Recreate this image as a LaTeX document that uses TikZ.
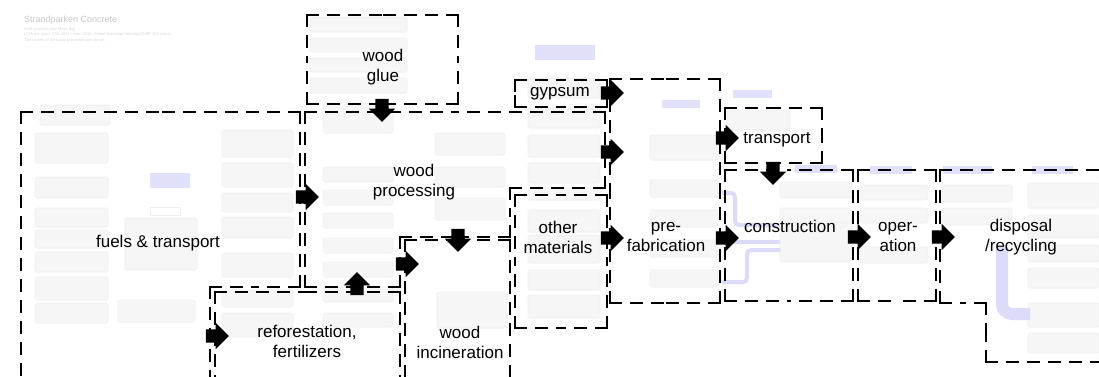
\documentclass[tikz,border=0pt]{standalone}
\usepackage{fontspec}
\setmainfont{Liberation Sans}
\usetikzlibrary{shapes.arrows,calc}
\definecolor{bgfill}{RGB}{246,246,246}
\definecolor{bgedge}{RGB}{238,238,238}
\definecolor{lav}{RGB}{224,224,250}
\definecolor{lavline}{RGB}{220,220,250}
\definecolor{faint}{RGB}{200,200,200}
\tikzset{
  lbl/.style={font=\fontsize{17}{20}\selectfont, align=center, inner sep=0pt},
  dsh/.style={line width=2.6pt, dash pattern=on 11pt off 10pt, line cap=rect},
  blockarrow/.style={single arrow, fill=black, draw=none, minimum height=23pt,
     inner xsep=0pt, inner ysep=6.5pt, single arrow head extend=6.5pt, single arrow tip angle=90},
  bgbox/.style={fill=bgfill, draw=bgedge, line width=0.6pt, rounded corners=1.5pt},
  bglab/.style={fill=lav, draw=none},
  bgflow/.style={draw=lavline, line width=4pt, rounded corners=4pt},
}
\newcommand\dside[2]{\draw[dsh] (#1) -- ($(#1)!0.5!(#2)$); \draw[dsh] (#2) -- ($(#1)!0.5!(#2)$);}
\newcommand\dbox[4]{\dside{#1,#2}{#3,#2}\dside{#3,#2}{#3,#4}\dside{#3,#4}{#1,#4}\dside{#1,#4}{#1,#2}}
\begin{document}
\begin{tikzpicture}[x=1pt,y=-1pt]
\useasboundingbox (0,0) rectangle (1099,376);
\fill[white] (0,0) rectangle (1099,376);

% ---------- faint background network ----------
\node[anchor=north west, inner sep=0pt, text=faint, font=\fontsize{9}{10}\selectfont] (title) at (24,16) {Strandparken Concrete};
\node[anchor=north west, inner sep=0pt, text=faint!70, font=\fontsize{4}{5.5}\selectfont, align=left] (subtitle) at (24,27)
  {GaB: process plan Mass [kg]\\LCIA per main: CML2001 - Nov. 2010, Global Warming Potential (GWP 100 years)\\The names of the basic processes are shown.};
\foreach \a/\b/\c/\d in {40/105/110/125, 35/133/108/163, 35/177/108/198, 35/208/108/227, 35/230/108/248,
  35/252/108/272, 35/277/108/300, 35/303/108/323, 125/218/197/238, 125/245/197/270, 118/300/195/322,
  222/130/293/157, 222/163/293/187, 222/193/293/212, 222/217/293/238, 222/253/293/277, 222/290/293/307, 222/313/293/337,
  310/17/407/32, 310/38/407/52, 310/58/407/72, 310/78/407/93,
  323/103/393/133, 323/167/393/182, 323/190/393/205, 323/213/393/228, 323/238/393/253, 323/262/393/277, 323/287/393/302, 323/313/393/327,
  435/133/505/155, 435/167/505/187, 435/198/505/220, 437/292/507/328,
  528/78/600/98, 528/108/600/128, 528/135/600/157, 528/163/600/183, 528/188/600/200, 528/210/600/232, 528/235/600/263, 528/270/600/290, 528/295/600/318,
  650/135/718/160, 650/180/718/197, 650/210/718/227, 650/240/718/257, 650/270/718/287,
  727/110/790/130, 780/182/852/198, 780/208/852/223, 780/223/852/262,
  860/185/928/200, 860/208/928/223, 860/247/928/263,
  942/185/1012/202, 942/208/1012/225,
  1028/183/1099/208, 1028/215/1099/238, 1028/245/1099/262, 1028/268/1099/288, 1028/303/1099/327, 1028/333/1099/353}
  {\draw[bgbox] (\a,\b) rectangle (\c,\d);}
\foreach \a/\b/\c/\d in {150/173/190/188, 535/45/595/60, 662/100/700/108, 733/90/772/98, 795/165/837/173,
  870/166/912/174, 943/166/992/174, 1032/166/1073/174}
  {\fill[bglab] (\a,\b) rectangle (\c,\d);}
\draw[bgedge, line width=0.6pt] (150,207) rectangle (180,215);
\draw[bgflow] (722,193) -- (735,193) -- (735,225) -- (780,225);
\draw[bgflow] (722,242) -- (780,242);
\draw[bgflow] (722,282) -- (747,282) -- (747,250) -- (780,250);
\draw[draw=lavline, line width=12pt, rounded corners=10pt] (1002,247) -- (1002,314) -- (1030,314);

% ---------- dashed regions ----------
% wood glue
\dbox{307}{15}{458}{104}
% fuels & transport
\draw[dsh] (21,112) -- (21,380);
\dside{21,112}{300,112}
\dside{300,112}{300,287}
\dside{300,287}{210,287}
\draw[dsh] (210,287) -- (210,380);
% wood processing
\dside{305,112}{605,112}
\dside{605,112}{605,188}
\dside{605,188}{510,188}
\dside{510,188}{510,237}
\dside{510,237}{400,237}
\dside{400,237}{400,287}
\dside{400,287}{305,287}
\dside{305,287}{305,112}
% reforestation
\dside{215,292}{400,292}
\draw[dsh] (215,292) -- (215,380);
\draw[dsh] (400,292) -- (400,380);
% wood incineration
\dside{405,240}{510,240}
\draw[dsh] (405,240) -- (405,380);
\draw[dsh] (510,240) -- (510,380);
% gypsum, other materials, prefab, transport, construction, operation
\dbox{515}{80}{607}{107}
\dbox{515}{195}{607}{328}
\dbox{610}{79}{720}{303}
\dbox{725}{108}{822}{163}
\dbox{725}{170}{853}{301}
\dbox{858}{170}{936}{301}
% disposal / recycling
\draw[dsh] (940,170) -- (1105,170);
\dside{940,170}{940,303}
\dside{940,303}{986,303}
\dside{986,303}{986,362}
\draw[dsh] (986,362) -- (1105,362);

% ---------- labels ----------
\node[lbl] (glue) at (383,67) {wood\\glue};
\node[lbl] (proc) at (414,182) {wood\\processing};
\node[lbl] (fuel) at (158,243) {fuels \& transport};
\node[lbl] (refor) at (307,341) {reforestation,\\fertilizers};
\node[lbl] (incin) at (460,342) {wood\\incineration};
\node[lbl] (gyps) at (560,94) {gypsum};
\node[lbl] (mater) at (558,237) {other\\materials};
\node[lbl] (prefab) at (666,237) {pre-\\fabrication};
\node[lbl] (transp) at (777,140) {transport};
\node[lbl] (constr) at (790,226) {construction};
\node[lbl] (oper) at (898,237) {oper-\\ation};
\node[lbl] (disp) at (1021,237) {disposal\\/recycling};

% ---------- block arrows ----------
\node[blockarrow] (aFuelProc) at (304,197) {};
\node[blockarrow, rotate=-90] (aGlueProc) at (382,107) {};
\node[blockarrow, rotate=90] (aReforProc) at (357,287) {};
\node[blockarrow] (aFuelRefor) at (214,336) {};
\node[blockarrow, rotate=-90] (aProcIncin) at (458,237) {};
\node[blockarrow] (aReforIncin) at (404,264) {};
\node[blockarrow] (aGypsPre) at (609,93) {};
\node[blockarrow] (aProcPre) at (609,152) {};
\node[blockarrow] (aMatPre) at (609,238) {};
\node[blockarrow] (aPreTransp) at (724,138) {};
\node[blockarrow, rotate=-90] (aTranspCon) at (773,170) {};
\node[blockarrow] (aPreCon) at (724,238) {};
\node[blockarrow] (aConOp) at (856,237) {};
\node[blockarrow] (aOpDisp) at (940,237) {};
\end{tikzpicture}
\end{document}
